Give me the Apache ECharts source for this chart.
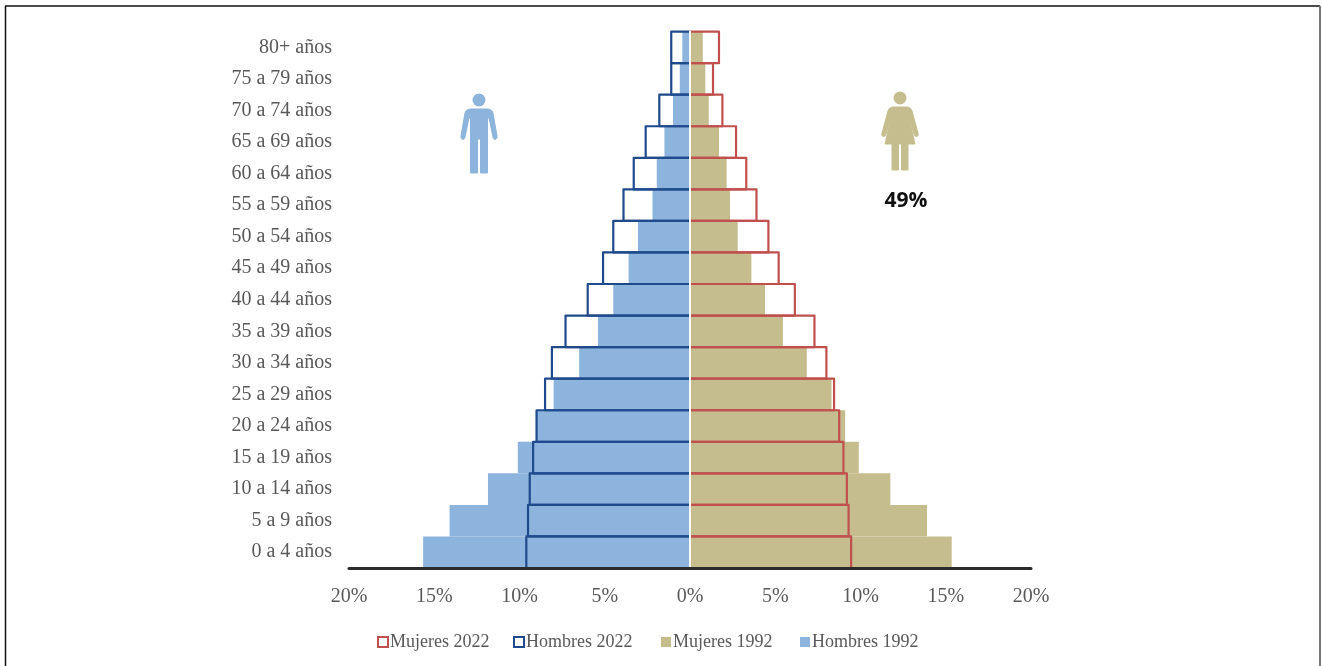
<!DOCTYPE html>
<html>
<head>
<meta charset="utf-8">
<style>html,body{margin:0;padding:0;background:#fff}#c{width:1322px;height:666px}</style>
<script src="https://cdn.jsdelivr.net/npm/echarts@6/dist/echarts.min.js"></script>
</head>
<body>
<div id="c"></div>
<script>
const categories = ['0 a 4 años','5 a 9 años','10 a 14 años','15 a 19 años','20 a 24 años','25 a 29 años','30 a 34 años','35 a 39 años','40 a 44 años','45 a 49 años','50 a 54 años','55 a 59 años','60 a 64 años','65 a 69 años','70 a 74 años','75 a 79 años','80+ años'];
const hombres1992 = [-15.65,-14.1,-11.85,-10.1,-9.0,-8.0,-6.5,-5.4,-4.5,-3.6,-3.05,-2.2,-1.95,-1.5,-1.0,-0.6,-0.45];
const mujeres1992 = [15.35,13.9,11.75,9.9,9.1,8.3,6.85,5.45,4.4,3.6,2.8,2.35,2.15,1.7,1.1,0.9,0.75];
const hombres2022 = [-9.6,-9.5,-9.4,-9.2,-9.0,-8.5,-8.1,-7.3,-6.0,-5.1,-4.5,-3.9,-3.3,-2.6,-1.8,-1.1,-1.1];
const mujeres2022 = [9.45,9.3,9.2,9.0,8.75,8.45,8.0,7.3,6.15,5.2,4.6,3.9,3.3,2.7,1.9,1.35,1.7];
const legendNames = ['Mujeres 2022','Hombres 2022','Mujeres 1992','Hombres 1992'];
const legendLefts = [377, 513, 661, 800];

const SERIF = '"Liberation Serif", serif';
const GREY = '#595959';
const BLUE = '#8db4dc', TAN = '#c6bd8f', NAVY = '#1f4a8c', RED = '#c0504d';
const legendColors = { 'Mujeres 2022': RED, 'Hombres 2022': NAVY, 'Mujeres 1992': TAN, 'Hombres 1992': BLUE };

const solid = (name, data, color) => ({
  name, type: 'bar', data, barWidth: '100%', barGap: '-100%',
  itemStyle: { color }
});
// Open outline: three sides of the bar, no stroke along the zero line.
const outline = (name, data, color) => ({
  name, type: 'custom', clip: false, z: 6,
  encode: { x: 0, y: 1 },
  data: data.map((v, i) => [v, i]),
  itemStyle: { color },
  renderItem: (params, api) => {
    const v = api.value(0), c = api.value(1);
    const a = api.coord([0, c]), b = api.coord([v, c]);
    const h = api.size([0, 1])[1] / 2;
    return {
      type: 'polyline',
      shape: { points: [[a[0], a[1] - h], [b[0], a[1] - h], [b[0], a[1] + h], [a[0], a[1] + h]] },
      style: { fill: 'none', stroke: color, lineWidth: 2.2, lineJoin: 'round' }
    };
  }
});

const manPath = 'M471 109 H487 C490 109 492 110 493 113 L497 136 C497.5 140 493.5 140.5 493 137 L489 118 L487.5 118 V173 H480.5 V139 H477.5 V173 H470.5 V118 L469 118 L465 137 C464.5 140.5 460.5 140 461 136 L465 113 C466 110 468 109 471 109 Z';
const womanPath = 'M894 107 H906 C909 107 911 108 912 111 L918 133 C919 137 915 138 914 134 L909 118 L915 144 H908 V170 H901.5 V144 H898.5 V170 H892 V144 H885 L891 118 L886 134 C885 138 881 137 882 133 L888 111 C889 108 891 107 894 107 Z';
echarts.graphic.registerShape('manIcon', echarts.graphic.extendPath(manPath, {}));
echarts.graphic.registerShape('womanIcon', echarts.graphic.extendPath(womanPath, {}));

const chart = echarts.init(document.getElementById('c'), null, { renderer: 'canvas' });
chart.setOption({
  animation: false,
  backgroundColor: '#fff',
  grid: { left: 349, right: 291, top: 31.6, bottom: 98, outerBoundsMode: 'none' },
  xAxis: {
    type: 'value', min: -20, max: 20, interval: 5,
    splitLine: { show: false },
    axisTick: { show: false },
    axisLine: { show: true, onZero: false, lineStyle: { color: '#2b2b2b', width: 3 } },
    axisLabel: {
      margin: 19, fontFamily: SERIF, fontSize: 20, color: GREY,
      formatter: v => Math.abs(v) + '%'
    },
    z: 12
  },
  yAxis: {
    type: 'category', data: categories,
    axisTick: { show: false },
    axisLine: { show: true, lineStyle: { color: '#ffffff', width: 2 } },
    axisLabel: { fontFamily: SERIF, fontSize: 20, color: GREY, margin: 17, align: 'right' },
    z: 10
  },
  legend: legendNames.map((name, i) => ({
    data: [{
      name,
      itemStyle: i < 2
        ? { color: '#ffffff', borderColor: legendColors[name], borderWidth: 2 }
        : { color: legendColors[name], borderWidth: 0 }
    }],
    left: legendLefts[i], top: 633, itemWidth: 10, itemHeight: 10, icon: 'rect', padding: 0,
    textStyle: { fontFamily: SERIF, fontSize: 18, color: GREY, padding: [0, 0, 0, -3] }
  })),
  series: [
    solid('Hombres 1992', hombres1992, BLUE),
    solid('Mujeres 1992', mujeres1992, TAN),
    outline('Hombres 2022', hombres2022, NAVY),
    outline('Mujeres 2022', mujeres2022, RED)
  ],
  graphic: [
    { type: 'line', shape: { x1: 5, y1: 6, x2: 1320, y2: 6 }, style: { stroke: '#111', lineWidth: 1.5 } },
    { type: 'line', shape: { x1: 5.5, y1: 6, x2: 5.5, y2: 666 }, style: { stroke: '#111', lineWidth: 1.5 } },
    { type: 'line', shape: { x1: 1320, y1: 6, x2: 1320, y2: 666 }, style: { stroke: '#777', lineWidth: 2 } },
    { type: 'circle', shape: { cx: 479, cy: 100, r: 6.5 }, style: { fill: BLUE } },
    { type: 'manIcon', style: { fill: BLUE, stroke: BLUE, lineWidth: 1, lineJoin: 'round' } },
    { type: 'circle', shape: { cx: 900, cy: 98, r: 6.5 }, style: { fill: TAN } },
    { type: 'womanIcon', style: { fill: TAN, stroke: TAN, lineWidth: 1, lineJoin: 'round' } },
    { type: 'text', x: 906, y: 201, style: { text: '49%', fill: '#111', font: 'bold 21px "Open Sans", sans-serif', textAlign: 'center', textVerticalAlign: 'middle' } }
  ]
});
</script>
</body>
</html>
